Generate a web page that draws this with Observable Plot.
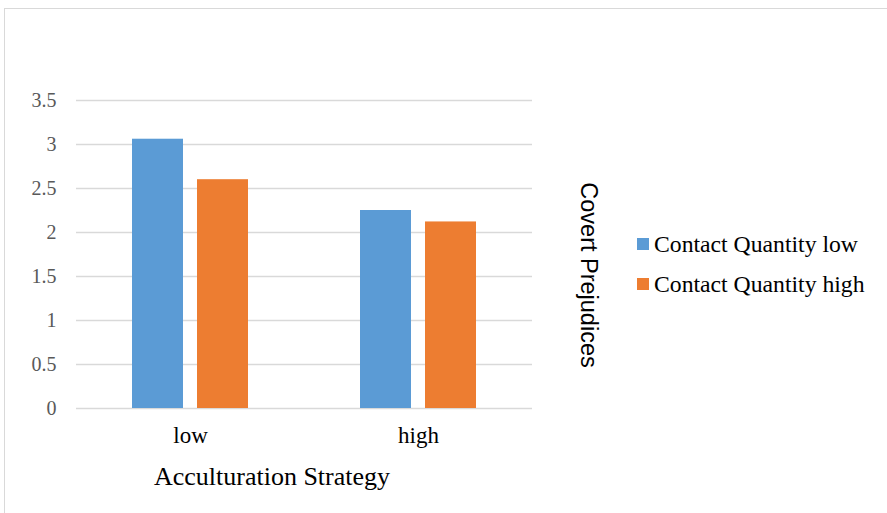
<!DOCTYPE html>
<html>
<head>
<meta charset="utf-8">
<script src="https://cdn.jsdelivr.net/npm/d3@7"></script>
<script src="https://cdn.jsdelivr.net/npm/@observablehq/plot@0.6"></script>
<style>
  html, body { margin: 0; padding: 0; background: #fff; overflow: hidden; }
  #wrap { position: relative; width: 887px; height: 513px; overflow: hidden; background: #fff; }
  #chart { position: absolute; left: 0; top: 0; }
  #frame { position: absolute; left: 4px; top: 8px; width: 920px; height: 540px; border: 1.5px solid #d9d9d9; box-sizing: border-box; pointer-events: none; }
  .xlabel { position: absolute; font-family: "Liberation Serif", serif; font-size: 26px; line-height: 30px; color: #000; white-space: nowrap; transform: translateX(-50%); }
  .ylabel { position: absolute; font-family: "Liberation Sans", sans-serif; font-size: 23.5px; color: #000; white-space: nowrap; transform: translate(-50%, -50%) rotate(90deg); }
  .legend { position: absolute; font-family: "Liberation Serif", serif; font-size: 23.7px; color: #000; }
  .legend .item { display: flex; align-items: center; height: 40px; white-space: nowrap; }
  .legend .sw { width: 12px; height: 12px; margin-right: 5px; flex: none; }
</style>
</head>
<body>
<div id="wrap">
  <div id="chart"></div>
  <div id="frame"></div>
</div>
<script>
const categories = ["low", "high"];
const series = ["Contact Quantity low", "Contact Quantity high"];
const contactLowValues = [3.06, 2.25];
const contactHighValues = [2.60, 2.12];
const yTicks = [0, 0.5, 1, 1.5, 2, 2.5, 3, 3.5];
const colors = ["#5B9BD5", "#ED7D31"];
const xTitle = "Acculturation Strategy";
const yTitle = "Covert Prejudices";

const data = [];
categories.forEach((c, i) => {
  data.push({category: c, series: series[0], value: contactLowValues[i]});
  data.push({category: c, series: series[1], value: contactHighValues[i]});
});

const plot = Plot.plot({
  width: 887,
  height: 513,
  marginLeft: 76,
  marginRight: 355,
  marginTop: 100,
  marginBottom: 105,
  style: {background: "transparent", fontFamily: "Liberation Serif, serif"},
  fx: {domain: categories, padding: 0, label: null, axis: null},
  x: {domain: series, paddingInner: 0.215, paddingOuter: 0.86, axis: null},
  y: {domain: [0, 3.5], label: null, axis: null},
  color: {domain: series, range: colors},
  marks: [
    Plot.ruleY(yTicks, {stroke: "#d9d9d9", strokeWidth: 1.5}),
    Plot.barY(data, {fx: "category", x: "series", y: "value", fill: "series"}),
    Plot.axisY({ticks: yTicks, tickFormat: d => String(d), tickSize: 0, tickPadding: 20, fontSize: 20, color: "#595959", label: null}),
    Plot.axisFx({anchor: "bottom", tickSize: 0, tickPadding: 18.5, fontSize: 23, color: "#000", label: null})
  ]
});
document.getElementById("chart").appendChild(plot);

const wrap = document.getElementById("wrap");
const xl = document.createElement("div");
xl.className = "xlabel";
xl.textContent = xTitle;
xl.style.left = "272px";
xl.style.top = "462px";
wrap.appendChild(xl);

const yl = document.createElement("div");
yl.className = "ylabel";
yl.textContent = yTitle;
yl.style.left = "588px";
yl.style.top = "275px";
wrap.appendChild(yl);

const lg = document.createElement("div");
lg.className = "legend";
lg.style.left = "637px";
lg.style.top = "224px";
series.forEach((s, i) => {
  const it = document.createElement("div");
  it.className = "item";
  const sw = document.createElement("div");
  sw.className = "sw";
  sw.style.background = colors[i];
  const t = document.createElement("span");
  t.textContent = s;
  it.appendChild(sw);
  it.appendChild(t);
  lg.appendChild(it);
});
wrap.appendChild(lg);
</script>
</body>
</html>
